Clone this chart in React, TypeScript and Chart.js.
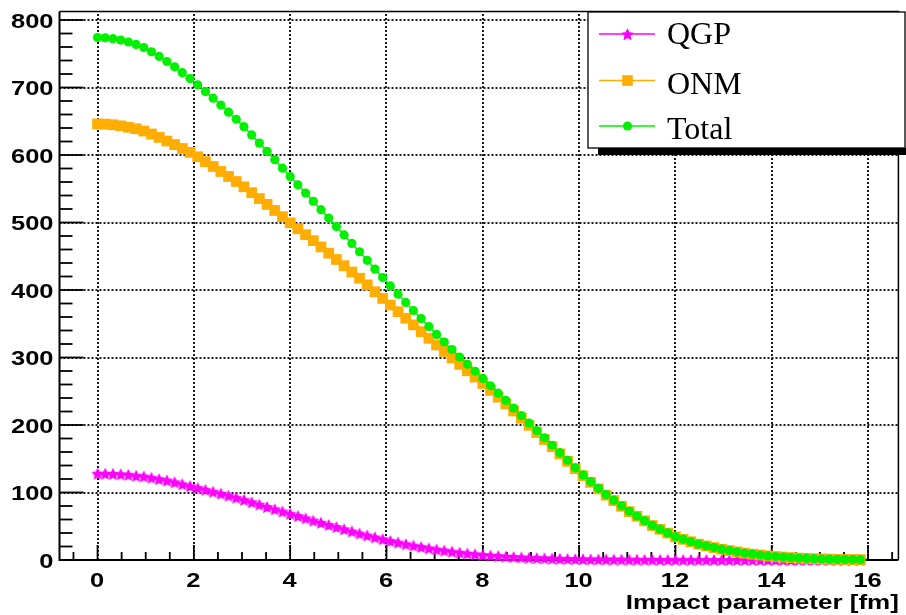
import React, { useEffect, useRef } from "react";
import { Chart, registerables } from "chart.js";

Chart.register(...registerables);

// ---- data ----
const bImpact = [
  0, 0.16, 0.32, 0.48, 0.64, 0.8, 0.96, 1.12, 1.28, 1.44,
  1.6, 1.76, 1.92, 2.08, 2.24, 2.4, 2.56, 2.72, 2.88, 3.04,
  3.2, 3.36, 3.52, 3.68, 3.84, 4, 4.16, 4.32, 4.48, 4.64,
  4.8, 4.96, 5.12, 5.28, 5.44, 5.6, 5.76, 5.92, 6.08, 6.24,
  6.4, 6.56, 6.72, 6.88, 7.04, 7.2, 7.36, 7.52, 7.68, 7.84,
  8, 8.16, 8.32, 8.48, 8.64, 8.8, 8.96, 9.12, 9.28, 9.44,
  9.6, 9.76, 9.92, 10.08, 10.24, 10.4, 10.56, 10.72, 10.88, 11.04,
  11.2, 11.36, 11.52, 11.68, 11.84, 12, 12.16, 12.32, 12.48, 12.64,
  12.8, 12.96, 13.12, 13.28, 13.44, 13.6, 13.76, 13.92, 14.08, 14.24,
  14.4, 14.56, 14.72, 14.88, 15.04, 15.2, 15.36, 15.52, 15.68, 15.84,
];

const qgpValues = [
  128, 127.9, 127.6, 127.1, 126.3, 124.9, 123.8, 121.9, 119.9, 117.8,
  115.2, 112.3, 109.4, 106.6, 103.9, 101.2, 98.4, 95.3, 92.3, 89.1,
  85.6, 82.1, 78.6, 75.2, 71.9, 68.5, 65.1, 61.8, 58.4, 55.2,
  52, 48.8, 45.6, 42.4, 39.2, 36.3, 33.6, 30.9, 28.3, 25.9,
  23.5, 21.3, 19.4, 17.4, 15.6, 14, 12.4, 10.9, 9.7, 8.6,
  7.5, 6.7, 5.9, 5.1, 4.5, 3.9, 3.3, 2.9, 2.5, 2.1,
  1.84, 1.6, 1.3, 1.15, 1.0, 0.9, 0.76, 0.67, 0.57, 0.48,
  0.42, 0.35, 0.3, 0.26, 0.23, 0.2, 0.17, 0.15, 0.13, 0.11,
  0.1, 0.09, 0.08, 0.07, 0.06, 0.05, 0.04, 0.04, 0.03, 0.03,
  0.02, 0.02, 0.02, 0.01, 0.01, 0.01, 0.01, 0, 0, 0,
];

const onmValues = [
  646, 645.7, 644.8, 643.2, 641.1, 638.9, 635.5, 631.1, 626.1, 620.7,
  615.4, 609.7, 603.9, 597.4, 590.1, 583, 575.6, 568.2, 560.7, 552.9,
  544.2, 535.5, 526.8, 517.8, 508.6, 499.5, 490.7, 481.9, 473.1, 463.8,
  454.6, 445.2, 436, 426.6, 417.5, 407.7, 397.4, 387.5, 377.7, 367.9,
  358.1, 348.3, 338.3, 328.5, 318.6, 309, 299.4, 289.8, 280.3, 271,
  261.5, 251.3, 241.3, 231.3, 220.7, 210.1, 199.5, 188.9, 178.5, 167.9,
  157.2, 146.2, 135.3, 124.9, 115.1, 105.3, 96.1, 87.9, 79.6, 71.7,
  64.8, 57.9, 51, 45.4, 39.9, 34.3, 30.6, 27, 23.4, 20.8,
  18.4, 16, 14, 12, 10.1, 8.65, 7.36, 6.06, 5.07, 4.27,
  3.48, 2.78, 2.38, 1.89, 1.49, 1.29, 0.99, 0.8, 0.65, 0.5,
];

const totalValues = [
  774, 773.6, 772.4, 770.3, 767.4, 763.8, 759.3, 753, 746, 738.5,
  730.6, 722, 713.3, 704, 694, 684.2, 674, 663.5, 653, 642,
  629.8, 617.6, 605.4, 593, 580.5, 568, 555.8, 543.7, 531.5, 519,
  506.6, 494, 481.6, 469, 456.7, 444, 431, 418.4, 406, 393.8,
  381.6, 369.6, 357.7, 345.9, 334.2, 323, 311.8, 300.7, 290, 279.6,
  269, 258, 247.2, 236.4, 225.2, 214, 202.8, 191.8, 181, 170,
  159, 147.8, 136.6, 126, 116.1, 106.2, 96.9, 88.6, 80.2, 72.2,
  65.2, 58.2, 51.3, 45.7, 40.1, 34.5, 30.8, 27.1, 23.5, 20.9,
  18.5, 16.1, 14.1, 12.1, 10.2, 8.7, 7.4, 6.1, 5.1, 4.3,
  3.5, 2.8, 2.4, 1.9, 1.5, 1.3, 1.0, 0.8, 0.65, 0.5,
];

const seriesNames = ["QGP", "ONM", "Total"];
const xTickValues = [0, 2, 4, 6, 8, 10, 12, 14, 16];
const yTickValues = [0, 100, 200, 300, 400, 500, 600, 700, 800];
const xAxisTitle = "Impact parameter [fm]";

// ---- style ----
const QGP_COLOR = "#ff00ff";
const ONM_COLOR = "#ffad00";
const TOTAL_COLOR = "#00f000";
const TICK_FONT = "bold 21px 'Liberation Sans', Arial, sans-serif";
const TITLE_FONT = "bold 20px 'Liberation Sans', Arial, sans-serif";
const LEGEND_FONT = "32px 'Liberation Serif', 'Times New Roman', serif";

function starPath(ctx: CanvasRenderingContext2D, cx: number, cy: number, R: number, r: number) {
  ctx.beginPath();
  for (let k = 0; k < 10; k++) {
    const ang = -Math.PI / 2 + (k * Math.PI) / 5;
    const rad = k % 2 === 0 ? R : r;
    const px = cx + rad * Math.cos(ang);
    const py = cy + rad * Math.sin(ang);
    if (k === 0) ctx.moveTo(px, py);
    else ctx.lineTo(px, py);
  }
  ctx.closePath();
}

function makeStarImage(R: number, color: string) {
  const s = Math.ceil(2 * R + 2);
  const c = document.createElement("canvas");
  c.width = s;
  c.height = s;
  const g = c.getContext("2d")!;
  g.fillStyle = color;
  starPath(g, s / 2, s / 2 + R * 0.1, R, R * 0.5);
  g.fill();
  return c;
}

function inkWidth(ctx: CanvasRenderingContext2D, text: string) {
  const m = ctx.measureText(text);
  return (m.actualBoundingBoxLeft || 0) + (m.actualBoundingBoxRight || m.width);
}

function drawStretched(
  ctx: CanvasRenderingContext2D,
  text: string,
  x: number,
  y: number,
  sx: number,
  align: CanvasTextAlign
) {
  ctx.save();
  ctx.translate(x, y);
  ctx.scale(sx, 1);
  ctx.textAlign = align;
  ctx.textBaseline = "alphabetic";
  ctx.fillText(text, 0, 0);
  ctx.restore();
}

const rootStylePlugin = {
  id: "rootStyle",
  beforeDatasetsDraw(chart: any) {
    const { ctx, chartArea: a } = chart;
    const xs = chart.scales.x;
    const ys = chart.scales.y;
    ctx.save();
    // dotted grid
    ctx.strokeStyle = "#1a1a1a";
    ctx.lineWidth = 2;
    ctx.setLineDash([2, 2]);
    for (const v of xTickValues) {
      const px = Math.round(xs.getPixelForValue(v));
      ctx.beginPath();
      ctx.moveTo(px, a.bottom);
      ctx.lineTo(px, a.top);
      ctx.stroke();
    }
    for (const v of yTickValues) {
      if (v === 0) continue;
      const py = Math.round(ys.getPixelForValue(v));
      ctx.beginPath();
      ctx.moveTo(a.left, py);
      ctx.lineTo(a.right, py);
      ctx.stroke();
    }
    ctx.setLineDash([]);
    ctx.strokeStyle = "#000";
    // y ticks (inside)
    ctx.lineWidth = 1.8;
    for (let v = 0; v <= ys.max; v += 20) {
      const py = ys.getPixelForValue(v);
      const major = v % 100 === 0;
      ctx.beginPath();
      ctx.moveTo(a.left, py);
      ctx.lineTo(a.left + (major ? 24 : 13), py);
      ctx.stroke();
    }
    // x ticks (inside)
    for (let v = -0.5; v <= xs.max; v += 0.5) {
      const px = xs.getPixelForValue(v);
      const major = Math.abs(v % 2) < 1e-6;
      ctx.beginPath();
      ctx.moveTo(px, a.bottom);
      ctx.lineTo(px, a.bottom - (major ? 15 : 8));
      ctx.stroke();
    }
    // frame
    ctx.lineWidth = 1.5;
    ctx.beginPath();
    ctx.moveTo(a.left, a.top);
    ctx.lineTo(a.right, a.top);
    ctx.lineTo(a.right, a.bottom);
    ctx.stroke();
    ctx.lineWidth = 2;
    ctx.beginPath();
    ctx.moveTo(a.left, a.top);
    ctx.lineTo(a.left, a.bottom);
    ctx.lineTo(a.right, a.bottom);
    ctx.stroke();

    // tick labels
    ctx.fillStyle = "#000";
    ctx.font = TICK_FONT;
    const tsx = 41.7 / inkWidth(ctx, "800");
    for (const v of yTickValues) {
      const py = ys.getPixelForValue(v);
      drawStretched(ctx, String(v), 53.5, py + 7.8, tsx, "right");
    }
    for (const v of xTickValues) {
      const px = xs.getPixelForValue(v);
      drawStretched(ctx, String(v), px - 0.5, 586.8, tsx, "center");
    }
    ctx.font = TITLE_FONT;
    const titleSx = 271 / inkWidth(ctx, xAxisTitle);
    drawStretched(ctx, xAxisTitle, a.right + 0.5, 609, titleSx, "right");
    ctx.restore();
  },
  afterDraw(chart: any) {
    const { ctx } = chart;
    ctx.save();
    // legend box with shadow
    const L = 588, T = 12, R = 905, B = 148;
    ctx.fillStyle = "#000";
    ctx.fillRect(598, B, 906 - 598, 7);
    ctx.fillStyle = "#fff";
    ctx.fillRect(L, T, R - L, B - T);
    ctx.strokeStyle = "#000";
    ctx.lineWidth = 1.3;
    ctx.strokeRect(L, T, R - L, B - T);

    const colors = [QGP_COLOR, ONM_COLOR, TOTAL_COLOR];
    const rowsY = [34, 80.5, 126];
    const baselines = [44, 93.5, 138.5];
    const mx = 627.5;
    for (let i = 0; i < 3; i++) {
      const y = rowsY[i];
      ctx.strokeStyle = colors[i];
      ctx.lineWidth = 1.5;
      ctx.beginPath();
      ctx.moveTo(599, y);
      ctx.lineTo(655, y);
      ctx.stroke();
      ctx.fillStyle = colors[i];
      if (i === 0) {
        starPath(ctx, mx, y + 0.8, 6.8, 6.8 * 0.48);
        ctx.fill();
      } else if (i === 1) {
        ctx.fillRect(mx - 5.3, y - 5.3, 10.6, 10.6);
      } else {
        ctx.beginPath();
        ctx.arc(mx, y, 4.6, 0, Math.PI * 2);
        ctx.fill();
      }
      ctx.fillStyle = "#000";
      ctx.font = LEGEND_FONT;
      ctx.textAlign = "left";
      ctx.textBaseline = "alphabetic";
      ctx.fillText(seriesNames[i], 667, baselines[i]);
    }
    ctx.restore();
  },
};

export default function App() {
  const ref = useRef<HTMLCanvasElement>(null);
  useEffect(() => {
    document.body.style.margin = "0";
    const canvas = ref.current!;
    const starImg = makeStarImage(6.6, QGP_COLOR);
    const toPoints = (vals: number[]) => bImpact.map((x, i) => ({ x, y: vals[i] }));
    const chart = new Chart(canvas, {
      type: "line",
      data: {
        datasets: [
          {
            label: seriesNames[0],
            data: toPoints(qgpValues),
            borderColor: QGP_COLOR,
            backgroundColor: QGP_COLOR,
            borderWidth: 1.5,
            pointStyle: starImg as any,
            pointRadius: 6,
            pointBorderWidth: 0,
            order: 2,
            clip: false as any,
          },
          {
            label: seriesNames[1],
            data: toPoints(onmValues),
            borderColor: ONM_COLOR,
            backgroundColor: ONM_COLOR,
            pointBackgroundColor: ONM_COLOR,
            borderWidth: 1.5,
            pointStyle: "rect",
            pointRadius: 7.6,
            pointBorderWidth: 0,
            order: 1,
            clip: false as any,
          },
          {
            label: seriesNames[2],
            data: toPoints(totalValues),
            borderColor: TOTAL_COLOR,
            backgroundColor: TOTAL_COLOR,
            pointBackgroundColor: TOTAL_COLOR,
            borderWidth: 1.5,
            pointStyle: "circle",
            pointRadius: 4.6,
            pointBorderWidth: 0,
            order: 0,
            clip: false as any,
          },
        ],
      },
      options: {
        responsive: false,
        animation: false,
        devicePixelRatio: 1,
        events: [],
        layout: { padding: { left: 0, top: 11.5, right: 2, bottom: 0 } },
        plugins: { legend: { display: false }, tooltip: { enabled: false } },
        scales: {
          x: {
            type: "linear",
            min: -0.79,
            max: 16.63,
            grid: { display: false },
            border: { display: false },
            ticks: { display: false },
            afterFit: (s: any) => {
              s.height = 55;
            },
          },
          y: {
            type: "linear",
            min: 0,
            max: 812.6,
            grid: { display: false },
            border: { display: false },
            ticks: { display: false },
            afterFit: (s: any) => {
              s.width = 59.5;
            },
          },
        },
      },
      plugins: [rootStylePlugin],
    });
    return () => chart.destroy();
  }, []);
  return (
    <div style={{ position: "absolute", left: 0, top: 0, width: 906, height: 615, background: "#fff" }}>
      <canvas ref={ref} width={906} height={615} style={{ display: "block", width: 906, height: 615 }} />
    </div>
  );
}
